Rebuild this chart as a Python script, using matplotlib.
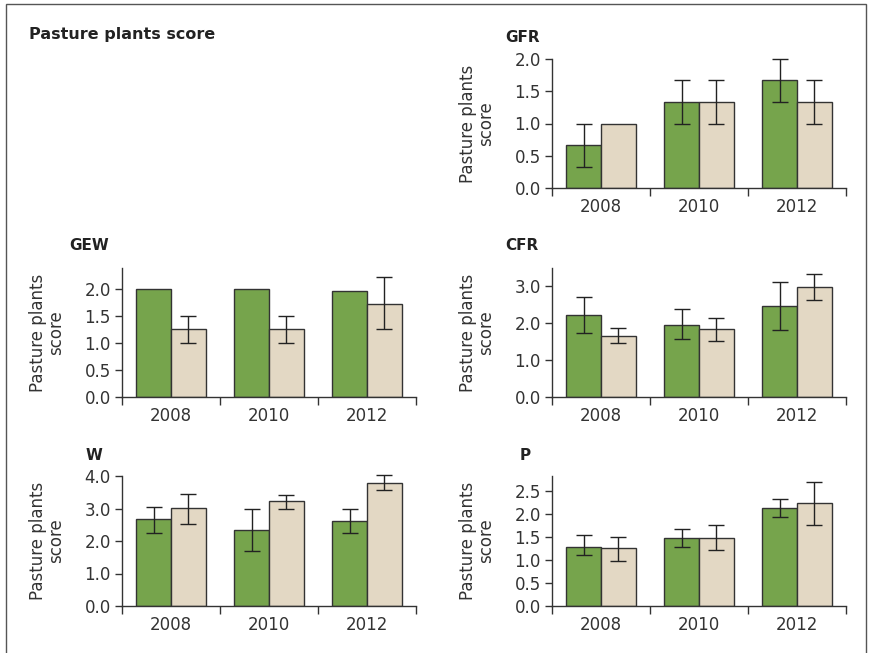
import numpy as np
import matplotlib.pyplot as plt
from matplotlib.patches import Rectangle

plt.rcParams['font.family'] = ['DejaVu Sans']

years = ['2008', '2010', '2012']

# GFR
gfr_green = [0.67, 1.33, 1.67]
gfr_green_lo = [0.33, 1.00, 1.33]
gfr_green_hi = [1.00, 1.67, 2.00]
gfr_beige = [1.00, 1.33, 1.33]
gfr_beige_lo = [1.00, 1.00, 1.00]
gfr_beige_hi = [1.00, 1.67, 1.67]

# GEW
gew_green = [2.00, 2.00, 1.97]
gew_green_lo = [2.00, 2.00, 1.97]
gew_green_hi = [2.00, 2.00, 1.97]
gew_beige = [1.26, 1.26, 1.73]
gew_beige_lo = [1.00, 1.00, 1.26]
gew_beige_hi = [1.50, 1.50, 2.22]

# CFR
cfr_green = [2.22, 1.96, 2.46]
cfr_green_lo = [1.74, 1.57, 1.82]
cfr_green_hi = [2.71, 2.38, 3.10]
cfr_beige = [1.66, 1.84, 2.98]
cfr_beige_lo = [1.45, 1.51, 2.62]
cfr_beige_hi = [1.88, 2.13, 3.32]

# W
w_green = [2.67, 2.33, 2.63]
w_green_lo = [2.25, 1.70, 2.26]
w_green_hi = [3.04, 3.00, 2.99]
w_beige = [3.02, 3.22, 3.79]
w_beige_lo = [2.52, 2.99, 3.56]
w_beige_hi = [3.45, 3.41, 4.04]

# P
p_green = [1.29, 1.48, 2.13]
p_green_lo = [1.11, 1.28, 1.93]
p_green_hi = [1.54, 1.68, 2.33]
p_beige = [1.25, 1.48, 2.24]
p_beige_lo = [0.98, 1.21, 1.75]
p_beige_hi = [1.49, 1.75, 2.68]

GREEN = '#76a44c'
BEIGE = '#e3d8c4'
EDGE = '#333333'
FS = 12

fig = plt.figure(figsize=(8.69, 6.53), dpi=100)

W_ax = 294 / 869
H_ax = 129 / 653
left_x = 122 / 869
right_x = 552 / 869


def panel(rect, title, title_x, title_y, green, glo, ghi, beige, blo, bhi, ylim, yticks):
    ax = fig.add_axes(rect)
    x = np.arange(len(years))
    w = 0.357
    ax.bar(x - w / 2, green, w, color=GREEN, edgecolor=EDGE, linewidth=1.0, zorder=2)
    ax.bar(x + w / 2, beige, w, color=BEIGE, edgecolor=EDGE, linewidth=1.0, zorder=2)
    g = np.array(green); b = np.array(beige)
    gerr = [g - np.array(glo), np.array(ghi) - g]
    berr = [b - np.array(blo), np.array(bhi) - b]
    for xs, vals, err in [(x - w / 2, g, gerr), (x + w / 2, b, berr)]:
        has = (err[0] > 0) | (err[1] > 0)
        if has.any():
            eb = ax.errorbar(xs[has], vals[has], yerr=[err[0][has], err[1][has]], fmt='none',
                             ecolor='#222222', elinewidth=1.0, capsize=6, capthick=1.0, zorder=3)
            for art in eb.lines[1] + eb.lines[2]:
                art.set_clip_on(False)
    ax.set_xlim(-0.5, 2.5)
    ax.set_ylim(*ylim)
    ax.set_yticks(yticks)
    ax.set_yticklabels([f'{t:.1f}' for t in yticks])
    ax.set_xticks(x)
    ax.set_xticklabels(years)
    ax.set_xticks([-0.5, 0.5, 1.5, 2.5], minor=True)
    ax.tick_params(axis='x', which='major', length=0, pad=7, labelsize=FS, labelcolor='#333333')
    ax.tick_params(axis='x', which='minor', length=6, width=1, color=EDGE, direction='out')
    ax.tick_params(axis='y', length=5, width=1, color=EDGE, labelsize=FS, labelcolor='#333333', pad=3)
    for s in ['top', 'right']:
        ax.spines[s].set_visible(False)
    for s in ['left', 'bottom']:
        ax.spines[s].set_color(EDGE)
        ax.spines[s].set_linewidth(1.0)
    ax.set_ylabel('Pasture plants\nscore', fontsize=FS, color='#333333', linespacing=1.0)
    ax.yaxis.set_label_coords(-57 / (rect[2] * 869), 0.5)
    fig.text(title_x / 869, 1 - title_y / 653, title, fontsize=11, fontweight='bold',
             color='#222222', ha='left', va='center')
    return ax


panel([right_x, 1 - 188 / 653, W_ax, H_ax], 'GFR', 505, 38,
      gfr_green, gfr_green_lo, gfr_green_hi, gfr_beige, gfr_beige_lo, gfr_beige_hi,
      (0, 2.0), [0.0, 0.5, 1.0, 1.5, 2.0])
panel([left_x, 1 - 397 / 653, W_ax, H_ax], 'GEW', 69, 246,
      gew_green, gew_green_lo, gew_green_hi, gew_beige, gew_beige_lo, gew_beige_hi,
      (0, 2.39), [0.0, 0.5, 1.0, 1.5, 2.0])
panel([right_x, 1 - 397 / 653, W_ax, H_ax], 'CFR', 505, 246,
      cfr_green, cfr_green_lo, cfr_green_hi, cfr_beige, cfr_beige_lo, cfr_beige_hi,
      (0, 3.49), [0.0, 1.0, 2.0, 3.0])
panel([left_x, 1 - 606 / 653, W_ax, 130 / 653], 'W', 86, 455,
      w_green, w_green_lo, w_green_hi, w_beige, w_beige_lo, w_beige_hi,
      (0, 4.0), [0.0, 1.0, 2.0, 3.0, 4.0])
panel([right_x, 1 - 606 / 653, W_ax, 130 / 653], 'P', 520, 455,
      p_green, p_green_lo, p_green_hi, p_beige, p_beige_lo, p_beige_hi,
      (0, 2.82), [0.0, 0.5, 1.0, 1.5, 2.0, 2.5])

fig.text(29 / 869, 1 - 35 / 653, 'Pasture plants score', fontsize=11.5, fontweight='bold',
         color='#222222', ha='left', va='center')

# frame around the figure (open at the bottom)
fig.add_artist(Rectangle((6 / 869, -0.05), (866 - 6) / 869, 1.05 - 4 / 653,
                         transform=fig.transFigure, fill=False, edgecolor='#555555', linewidth=1.0))

fig.savefig('out.png', dpi=100)
